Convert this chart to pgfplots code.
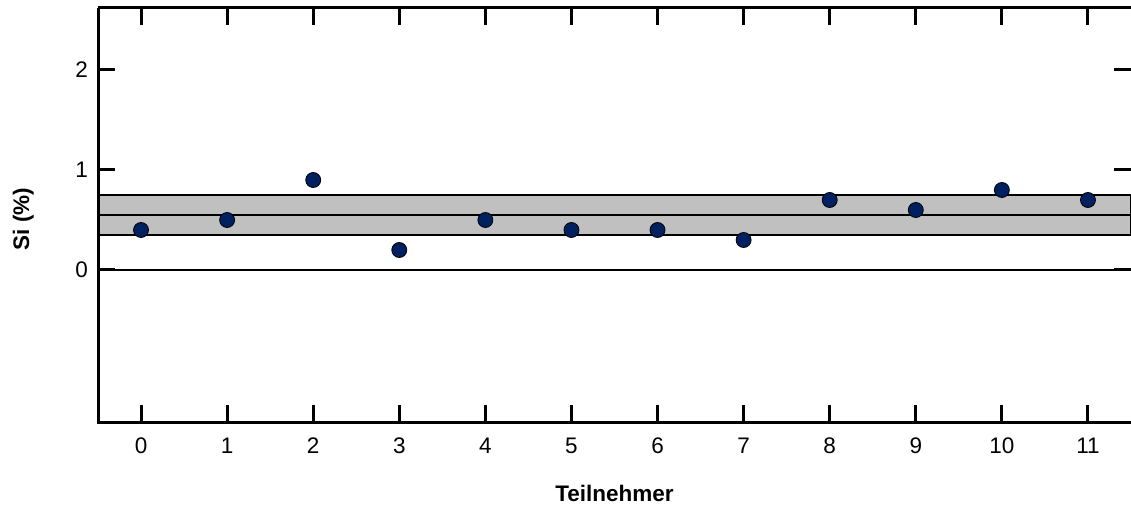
\documentclass[border=0pt]{standalone}
\usepackage{pgfplots}
\pgfplotsset{compat=1.18}
\usepackage{fontspec}
\setmainfont{Liberation Sans}
\definecolor{navy}{RGB}{0,32,96}
\definecolor{band}{RGB}{192,192,192}
\begin{document}
\begin{tikzpicture}
\begin{axis}[
  at={(98pt,86pt)}, anchor=south west,
  scale only axis, width=1033pt, height=414pt,
  xmin=-0.5, xmax=11.5, ymin=-1.52, ymax=2.62,
  xtick={0,1,2,3,4,5,6,7,8,9,10,11},
  ytick={0,1,2},
  tick align=inside,
  major tick length=17pt,
  every tick/.style={black, line width=3pt},
  axis line style={draw=none},
  /pgf/number format/assume math mode=true,
  tick label style={font=\fontsize{22.5}{26}\selectfont, inner sep=0pt},
  xticklabel style={anchor=north, yshift=-16pt},
  yticklabel style={anchor=east, xshift=-10pt},
  xlabel={\textbf{Teilnehmer}},
  ylabel={\textbf{Si (\%)}},
  label style={font=\fontsize{22.5}{26}\selectfont, inner sep=0pt},
  xlabel style={at={([yshift=-63pt]axis description cs:0.5,0)}, anchor=north},
  ylabel style={at={([xshift=-64pt]axis description cs:0,0.49)}, anchor=south},
  clip=false,
]
\addplot[draw=black, line width=1.8pt, fill=band] coordinates {(-0.5,0.35) (11.5,0.35) (11.5,0.75) (-0.5,0.75) (-0.5,0.35)};
\addplot[black, line width=1.8pt] coordinates {(-0.5,0.55) (11.5,0.55)};
\addplot[black, line width=1.8pt] coordinates {(-0.5,0) (11.5,0)};
\addplot[only marks, mark=*, mark size=7.5pt, mark options={fill=navy, draw=black, line width=0.8pt}] coordinates {
(0,0.4) (1,0.5) (2,0.9) (3,0.2) (4,0.5) (5,0.4) (6,0.4) (7,0.3) (8,0.7) (9,0.6) (10,0.8) (11,0.7)};
\draw[black, line width=3pt] (rel axis cs:0,1) -- (rel axis cs:0,0) -- (rel axis cs:1,0);
\draw[black, line width=3pt] (rel axis cs:0,1) -- (rel axis cs:1,1);
\end{axis}
\pgfresetboundingbox
\path (0,0) rectangle (1131pt,508pt);
\end{tikzpicture}
\end{document}
